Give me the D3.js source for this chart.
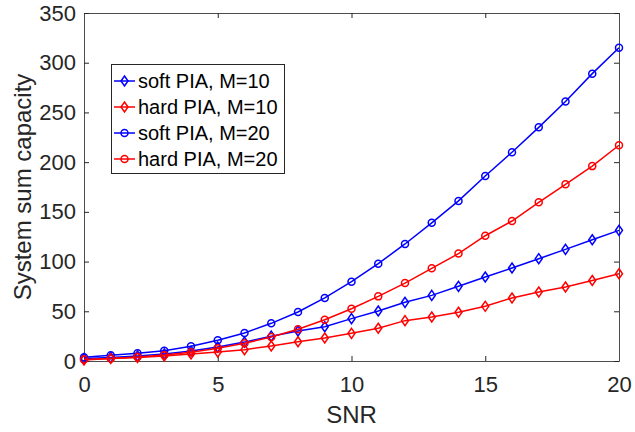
<!DOCTYPE html>
<html>
<head>
<meta charset="utf-8">
<script src="https://cdn.jsdelivr.net/npm/d3@7"></script>
<style>
  body { margin: 0; background: #fff; }
  svg { display: block; font-family: "Liberation Sans", Arial, sans-serif; }
</style>
</head>
<body>
<svg id="chart" width="635" height="432"></svg>
<script>
let snr = d3.range(0, 21);

let softM10 = [2.5, 3.5, 5, 7, 10, 14, 19, 25, 30.2, 34.5, 42.6, 50.3, 59, 66, 75.1, 84.5, 93.5, 102.9, 112.3, 122, 131.4];
let hardM10 = [1, 2.5, 3.5, 5, 7, 9, 11.4, 15.1, 19.4, 23.1, 27.8, 32.9, 40.6, 44.3, 49, 55, 63.4, 69.4, 74.4, 81, 87.8];
let softM20 = [3.7, 5.7, 7.7, 10.4, 14.8, 20.8, 28.2, 37.9, 49.3, 63.4, 79.8, 97.9, 117.7, 139, 161, 186, 210, 235, 261, 289, 315];
let hardM20 = [1.5, 2.5, 4, 6, 8.7, 12.8, 17.8, 24.1, 31.9, 41.5, 52.6, 65, 78.4, 93.2, 108, 126, 140.8, 159.6, 177.7, 196, 217];

let seriesNames = ["soft PIA, M=10", "hard PIA, M=10", "soft PIA, M=20", "hard PIA, M=20"];
let seriesData = [softM10, hardM10, softM20, hardM20];
let seriesColors = ["#0000ff", "#ff0000", "#0000ff", "#ff0000"];
let seriesMarkers = ["diamond", "diamond", "circle", "circle"];

let xTicks = [0, 5, 10, 15, 20];
let yTicks = [0, 50, 100, 150, 200, 250, 300, 350];

let svg = d3.select("#chart");
let plotLeft = 84, plotRight = 619, plotTop = 13, plotBottom = 361;
let axisColor = "#262626";

let x = d3.scaleLinear().domain([0, 20]).range([plotLeft, plotRight]);
let y = d3.scaleLinear().domain([0, 350]).range([plotBottom, plotTop]);

// axes box with inward ticks
svg.append("g")
    .attr("transform", "translate(0," + plotBottom + ")")
    .call(d3.axisBottom(x).tickValues(xTicks).tickSizeInner(-5).tickSizeOuter(0).tickPadding(15))
    .call(g => g.selectAll("text").style("font-size", "22px").attr("fill", axisColor));
svg.append("g")
    .attr("transform", "translate(0," + plotTop + ")")
    .call(d3.axisTop(x).tickValues(xTicks).tickSizeInner(-5).tickSizeOuter(0).tickFormat(""));
svg.append("g")
    .attr("transform", "translate(" + plotLeft + ",0)")
    .call(d3.axisLeft(y).tickValues(yTicks).tickSizeInner(-5).tickSizeOuter(0).tickPadding(8))
    .call(g => g.selectAll("text").style("font-size", "22px").attr("fill", axisColor));
svg.append("g")
    .attr("transform", "translate(" + plotRight + ",0)")
    .call(d3.axisRight(y).tickValues(yTicks).tickSizeInner(-5).tickSizeOuter(0).tickFormat(""));

svg.selectAll(".domain, .tick line").attr("stroke", axisColor).attr("stroke-width", 1);
svg.selectAll(".domain").attr("stroke", "#4d4d4d");

// axis labels
svg.append("text")
    .attr("x", (plotLeft + plotRight) / 2)
    .attr("y", 423)
    .attr("text-anchor", "middle")
    .attr("fill", axisColor)
    .style("font-size", "24px")
    .text("SNR");

svg.append("text")
    .attr("transform", "translate(31," + (plotTop + plotBottom) / 2 + ") rotate(-90)")
    .attr("text-anchor", "middle")
    .attr("fill", axisColor)
    .style("font-size", "24px")
    .text("System sum capacity");

let line = d3.line().x((d, i) => x(snr[i])).y(d => y(d));

let drawMarker = (g, type, color, cx, cy) => {
    if (type == "circle") {
        g.append("circle")
            .attr("cx", cx).attr("cy", cy).attr("r", 3.5)
            .attr("fill", "none").attr("stroke", color).attr("stroke-width", 1.5);
    } else {
        g.append("path")
            .attr("d", "M" + cx + "," + (cy - 5) + "L" + (cx + 3.5) + "," + cy + "L" + cx + "," + (cy + 5) + "L" + (cx - 3.5) + "," + cy + "Z")
            .attr("fill", "none").attr("stroke", color).attr("stroke-width", 1.5);
    }
};

seriesData.forEach((data, k) => {
    let g = svg.append("g");
    g.append("path")
        .attr("d", line(data))
        .attr("fill", "none")
        .attr("stroke", seriesColors[k])
        .attr("stroke-width", 1.5);
    data.forEach((v, i) => drawMarker(g, seriesMarkers[k], seriesColors[k], x(snr[i]), y(v)));
});

// legend
let lg = svg.append("g");
lg.append("rect")
    .attr("x", 111.5).attr("y", 64.5)
    .attr("width", 173).attr("height", 109)
    .attr("fill", "#fff").attr("stroke", axisColor).attr("stroke-width", 1);

seriesNames.forEach((name, k) => {
    let ly = 81 + k * 26;
    lg.append("line")
        .attr("x1", 114).attr("x2", 135)
        .attr("y1", ly).attr("y2", ly)
        .attr("stroke", seriesColors[k]).attr("stroke-width", 1.5);
    drawMarker(lg, seriesMarkers[k], seriesColors[k], 124.5, ly);
    lg.append("text")
        .attr("x", 138).attr("y", ly)
        .attr("dy", "0.35em")
        .attr("fill", "#000")
        .style("font-size", "20px")
        .text(name);
});
</script>
</body>
</html>
